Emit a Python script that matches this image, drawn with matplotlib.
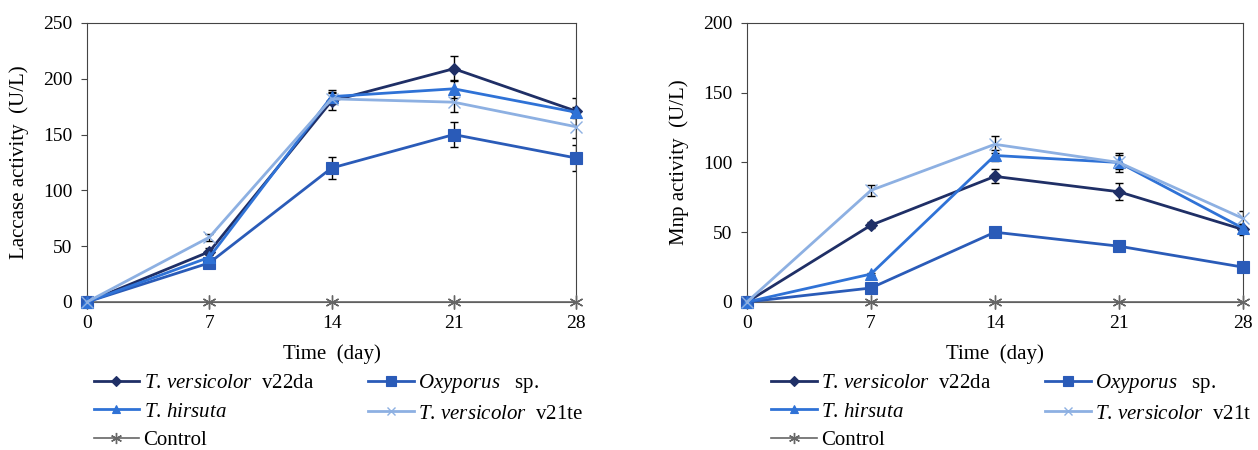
import matplotlib
matplotlib.use('Agg')
import matplotlib.pyplot as plt
import numpy as np
#
plt.rcParams['font.family'] = ['Liberation Serif', 'DejaVu Serif']
plt.rcParams['mathtext.fontset'] = 'custom'
plt.rcParams['mathtext.rm'] = 'Liberation Serif'
plt.rcParams['mathtext.it'] = 'Liberation Serif:italic'
#
days = [0, 7, 14, 21, 28]
#
# laccase activity (U/L)
lac_v22da = [0, 45, 180, 209, 171]
lac_v22da_err = [0, 3, 8, 11, 12]
lac_oxy = [0, 35, 120, 150, 129]
lac_oxy_err = [0, 2, 10, 11, 12]
lac_hirs = [0, 40, 184, 191, 170]
lac_hirs_err = [0, 3, 6, 8, 5]
lac_v21 = [0, 58, 182, 179, 157]
lac_v21_err = [0, 3, 5, 9, 10]
lac_ctrl = [0, 0, 0, 0, 0]
#
# Mnp activity (U/L)
mnp_v22da = [0, 55, 90, 79, 52]
mnp_v22da_err = [0, 2, 5, 6, 4]
mnp_oxy = [0, 10, 50, 40, 25]
mnp_oxy_err = [0, 1, 1, 1, 1]
mnp_hirs = [0, 20, 105, 100, 53]
mnp_hirs_err = [0, 1, 4, 5, 3]
mnp_v21 = [0, 80, 113, 100, 60]
mnp_v21_err = [0, 4, 6, 7, 5]
mnp_ctrl = [0, 0, 0, 0, 0]
#
colors = ['#1f2f66', '#2a5bb8', '#2f72d6', '#8db0e2', '#666666']
markers = ['D', 's', '^', 'x', (6, 2, 0)]
msizes = [6, 9, 8, 8, 10]
lws = [2, 2, 2, 2, 1.2]
#
def panel(ax, series, errs, ylabel, ymax, ystep, v21_name, leg_x):
	labels = [r'$\mathit{T.\,versicolor}$  v22da', r'$\mathit{Oxyporus}$   sp.',
			  r'$\mathit{T.\,hirsuta}$', r'$\mathit{T.\,versicolor}$  ' + v21_name, 'Control']
	order = [0, 2, 4, 1, 3]
	handles = {}
	for i in [4, 0, 1, 2, 3]:
		ax.errorbar(days, series[i], yerr=errs[i], fmt='none', ecolor='black', elinewidth=1, capsize=3, zorder=2)
		h, = ax.plot(days, series[i], color=colors[i], marker=markers[i], markersize=msizes[i],
					 markeredgewidth=1.0 if i >= 3 else 0.8, lw=lws[i], label=labels[i], zorder=3, clip_on=False)
		handles[i] = h
	ax.set_xlim(0, 28)
	ax.set_ylim(0, ymax)
	ax.set_xticks(days)
	ax.set_yticks(np.arange(0, ymax + 1, ystep))
	ax.tick_params(labelsize=14, length=4.5, color='#444444')
	ax.tick_params(axis='y', pad=6)
	ax.tick_params(axis='x', pad=5)
	for s in ax.spines.values():
		s.set_color('#444444')
	ax.set_xlabel('Time  (day)', fontsize=15, labelpad=9)
	ax.set_ylabel(ylabel, fontsize=15, labelpad=10)
	ax.legend([handles[i] for i in order], [labels[i] for i in order], ncol=2, frameon=False,
			  loc='upper left', bbox_to_anchor=(leg_x, -0.185), fontsize=15, handlelength=2.2,
			  handletextpad=0.2, columnspacing=2.6, labelspacing=0.42, markerscale=0.8)
#
fig = plt.figure(figsize=(12.58, 4.5), dpi=100)
ax1 = fig.add_axes([0.0692, 0.329, 0.3887, 0.62])
ax2 = fig.add_axes([0.5938, 0.329, 0.394, 0.62])
#
panel(ax1, [lac_v22da, lac_oxy, lac_hirs, lac_v21, lac_ctrl],
	  [lac_v22da_err, lac_oxy_err, lac_hirs_err, lac_v21_err, None],
	  'Laccase activity  (U/L)', 250, 50, 'v21te', -0.025)
panel(ax2, [mnp_v22da, mnp_oxy, mnp_hirs, mnp_v21, mnp_ctrl],
	  [mnp_v22da_err, mnp_oxy_err, mnp_hirs_err, mnp_v21_err, None],
	  'Mnp activity  (U/L)', 200, 50, 'v21t', 0.01)
#
fig.savefig('out.png', dpi=100)
